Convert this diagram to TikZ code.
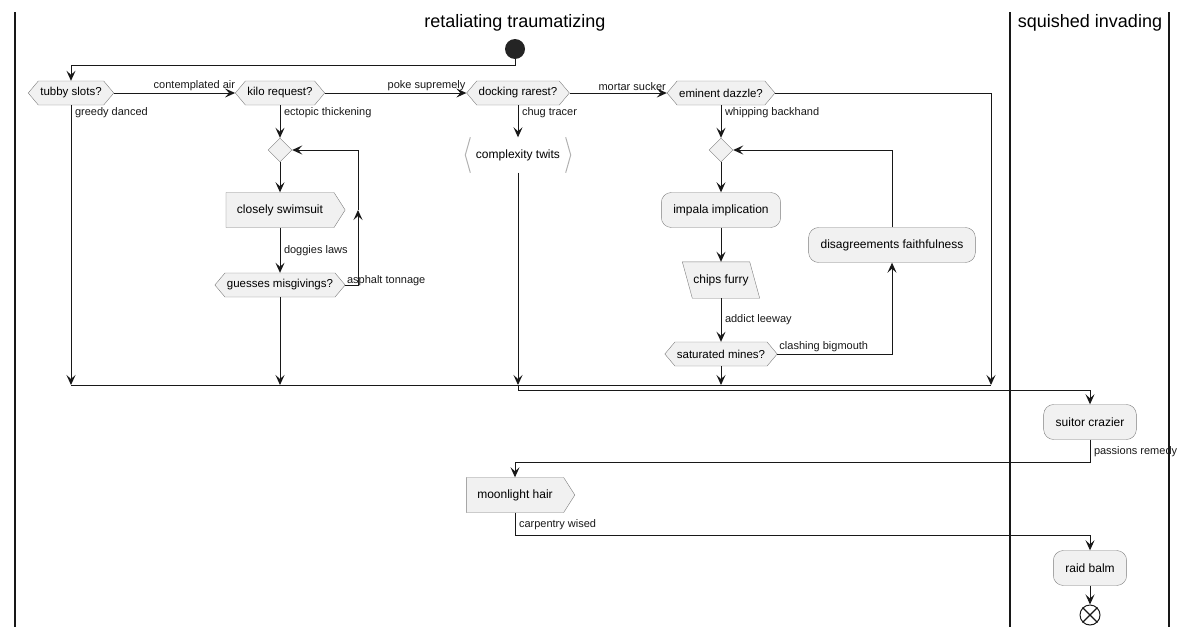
\documentclass[tikz,border=0pt]{standalone}
\usepackage{fontspec}
\setmainfont{Liberation Sans}
\definecolor{nodefill}{RGB}{241,241,241}
\definecolor{nodeline}{RGB}{125,125,125}
\definecolor{ink}{RGB}{24,24,24}
\usetikzlibrary{arrows.meta,positioning,shapes.geometric,shapes.symbols,calc,backgrounds}
\tikzset{
  act/.style={draw=nodeline, fill=nodefill, rounded corners=10pt, font=\fontsize{12}{14}\selectfont,
              minimum height=35pt, inner xsep=12pt},
  cond/.style={signal, signal to=east and west, signal pointer angle=100, draw=nodeline, fill=nodefill,
              font=\fontsize{11.5}{13}\selectfont, minimum height=24pt, inner xsep=2pt, inner ysep=2pt},
  sendbox/.style={signal, signal to=east, signal from=nowhere, signal pointer angle=115, draw=nodeline,
              fill=nodefill, font=\fontsize{12}{14}\selectfont, minimum height=35pt, inner xsep=11pt},
  junction/.style={diamond, draw=nodeline, fill=nodefill, minimum size=24pt, inner sep=0pt},
  lbl/.style={font=\fontsize{11}{13}\selectfont, inner sep=1.5pt, text=ink},
  flow/.style={-{Stealth[length=10pt, width=9pt, inset=4pt]}, ink, line width=1pt},
  lane/.style={ink, line width=1.6pt},
}

\begin{document}
\begin{tikzpicture}[x=1pt, y=-1pt]
  \useasboundingbox (0,0) rectangle (1188,637);
  \draw[lane] (15,12) -- (15,627);
  \draw[lane] (1010,12) -- (1010,627);
  \draw[lane] (1169,12) -- (1169,627);
  \node[font=\fontsize{18}{21}\selectfont] (laneA) at (515,23) {retaliating traumatizing};
  \node[font=\fontsize{18}{21}\selectfont] (laneB) at (1090,23) {squished invading};

  \node[circle, fill=ink!95, minimum size=20pt, inner sep=0pt] (start) at (515,49) {};
  \node[cond] (tubby) at (71,93) {tubby slots?};
  \node[cond] (kilo) at (280,93) {kilo request?};
  \node[cond] (docking) at (518,93) {docking rarest?};
  \node[cond] (eminent) at (721,93) {eminent dazzle?};
  \node[junction] (jA) at (280,150) {};
  \node[sendbox] (swim) at (280,210) {closely swimsuit};
  \node[cond] (guesses) at (280,285) {guesses misgivings?};
  \node[font=\fontsize{12}{14}\selectfont, minimum width=105pt, minimum height=35pt] (twits) at (518,155) {complexity twits};
  \draw[nodeline!60, line width=1pt] ([xshift=5pt]twits.north west) -- (twits.west) -- ([xshift=5pt]twits.south west);
  \draw[nodeline!60, line width=1pt] ([xshift=-5pt]twits.north east) -- (twits.east) -- ([xshift=-5pt]twits.south east);
  \node[junction] (jB) at (721,150) {};
  \node[act] (impala) at (721,210) {impala implication};
  \node[font=\fontsize{12}{14}\selectfont, minimum width=67pt, minimum height=36pt] (chips) at (721,280) {chips furry};
  \begin{scope}[on background layer]
    \filldraw[fill=nodefill, draw=nodeline] ([xshift=-5pt]chips.north west) -- ([xshift=-5pt]chips.north east)
      -- ([xshift=5pt]chips.south east) -- ([xshift=5pt]chips.south west) -- cycle;
  \end{scope}
  \node[cond] (saturated) at (721,354) {saturated mines?};
  \node[act] (disagree) at (892,245) {disagreements faithfulness};
  \node[act] (suitor) at (1090,422) {suitor crazier};
  \node[sendbox] (moon) at (515,495) {moonlight hair};
  \node[act] (raid) at (1090,568) {raid balm};
  \node[circle, draw=ink, line width=1pt, minimum size=20pt, inner sep=0pt] (stop) at (1090,615) {};
  \draw[ink, line width=1.3pt] (stop.north west) -- (stop.south east) (stop.north east) -- (stop.south west);

  \coordinate (mrg) at (518,385);
  \coordinate (mrgR) at (991,385);
  \coordinate (loopA) at (358,0);

  \draw[flow] (start.south) -- ++(0,6) -| (tubby.north);
  \draw[flow] (tubby.east) -- (kilo.west) node[lbl, pos=1, anchor=south east, xshift=2pt] {contemplated air};
  \draw[flow] (kilo.east) -- (docking.west) node[lbl, pos=1, anchor=south east, xshift=1pt] {poke supremely};
  \draw[flow] (docking.east) -- (eminent.west) node[lbl, pos=1, anchor=south east, xshift=1pt] {mortar sucker};
  \draw[flow] (eminent.east) -| (mrgR);
  \draw[flow] (tubby.south) -- (tubby.south |- mrg) node[lbl, pos=0, anchor=north west, xshift=2pt] {greedy danced};

  \draw[flow] (kilo.south) -- (jA.north) node[lbl, pos=0, anchor=north west, xshift=2pt] {ectopic thickening};
  \draw[flow] (jA.south) -- (jA.south |- swim.north);
  \draw[flow] (jA.south |- swim.south) -- node[lbl, anchor=west, xshift=2pt] {doggies laws} (guesses.north);
  \draw[flow] (guesses.east) -| (loopA |- swim);
  \draw[ink, line width=1pt] (loopA |- swim) -- (loopA |- jA.east);
  \draw[flow] (loopA |- jA.east) -- (jA.east);
  \node[lbl, anchor=west] (asphalt) at ($(guesses.east)+(0,-4)$) {asphalt tonnage};
  \draw[flow] (guesses.south) -- (guesses.south |- mrg);

  \draw[flow] (docking.south) -- (twits.north) node[lbl, pos=0, anchor=north west, xshift=2pt] {chug tracer};
  \draw[flow] (twits.south) -- (mrg);

  \draw[flow] (eminent.south) -- (jB.north) node[lbl, pos=0, anchor=north west, xshift=2pt] {whipping backhand};
  \draw[flow] (jB.south) -- (impala.north);
  \draw[flow] (impala.south) -- (chips.north);
  \draw[flow] (chips.south) -- node[lbl, anchor=west, xshift=2pt] {addict leeway} (saturated.north);
  \draw[flow] (saturated.east) -| (disagree.south) node[lbl, pos=0, anchor=south west] {clashing bigmouth};
  \draw[flow] (disagree.north) |- (jB.east);
  \draw[flow] (saturated.south) -- (saturated.south |- mrg);

  \draw[ink, line width=1pt] (tubby.south |- mrg) -- (mrgR);
  \draw[flow] (mrg) -- ++(0,5) -| (suitor.north);
  \draw[flow] (suitor.south) -- node[lbl, anchor=west, xshift=2pt] {passions remedy} ++(0,23) -| (moon.north);
  \draw[flow] (moon.south) -- node[lbl, anchor=west, xshift=2pt] {carpentry wised} ++(0,23) -| (raid.north);
  \draw[flow] (raid.south) -- (stop.north);
\end{tikzpicture}
\end{document}
